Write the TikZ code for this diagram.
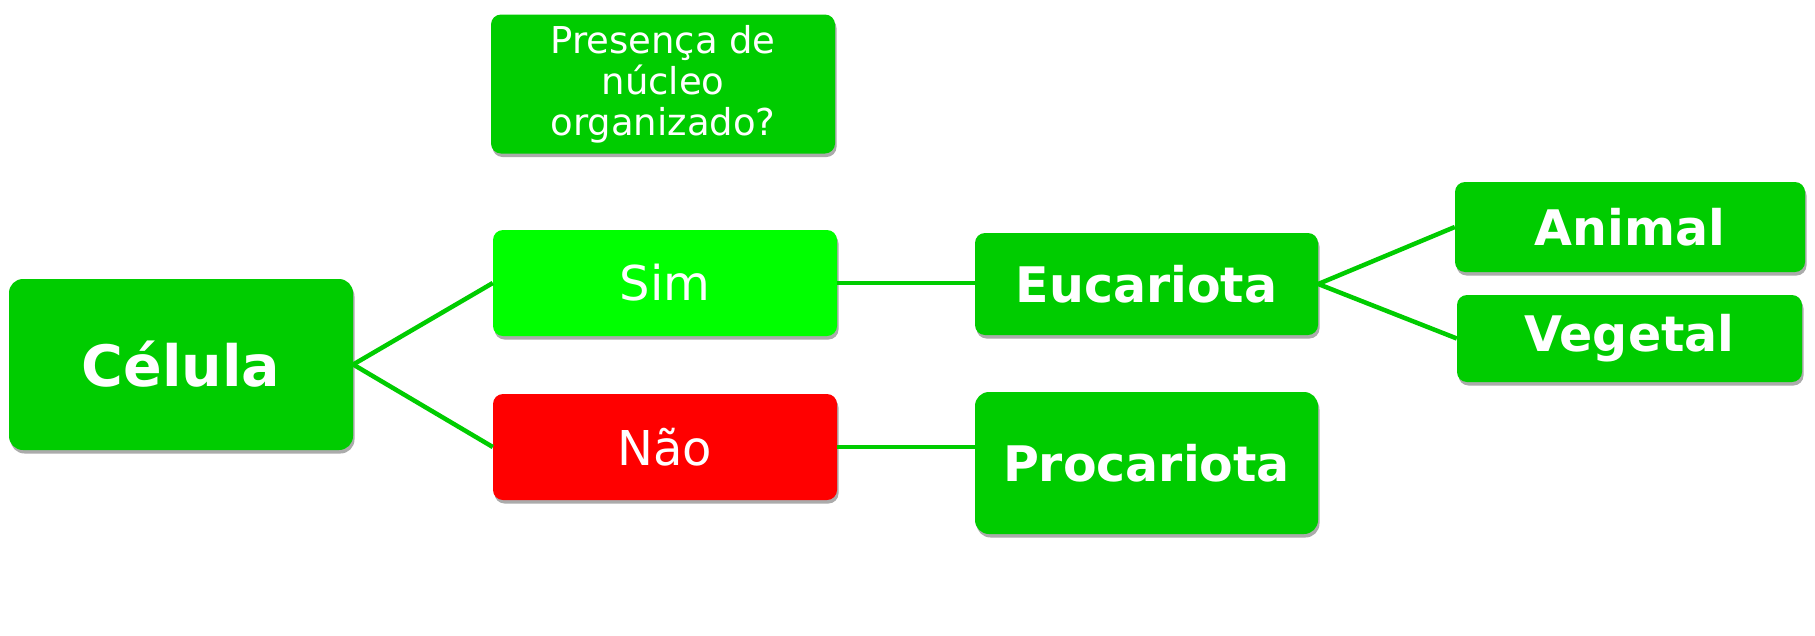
\documentclass[tikz,border=0pt]{standalone}
\usepackage{fontspec}
\setmainfont{DejaVu Sans}
\usepackage{tikz}
\usetikzlibrary{positioning,shadows,calc}

\definecolor{verde}{HTML}{00CC00}
\definecolor{verdeclaro}{HTML}{00FF00}
\definecolor{vermelho}{HTML}{FF0000}

\begin{document}
\begin{tikzpicture}[x=1pt, y=-1pt,
  caixa/.style={rectangle, rounded corners=10pt, fill=verde, text=white, inner sep=0pt,
    drop shadow={opacity=0.55, fill=black!60, shadow xshift=1.5pt, shadow yshift=-3.5pt}},
  grande/.style={font=\bfseries\fontsize{49}{52}\selectfont},
  resposta/.style={font=\fontsize{48}{52}\selectfont},
  liga/.style={draw=verde, line width=4.5pt}]
\useasboundingbox (0,0) rectangle (1815,635);
%raiz
\node[caixa, rounded corners=14pt, minimum width=344pt, minimum height=171pt,
  font=\bfseries\fontsize{57}{60}\selectfont] (celula) at (181,364.5) {Célula};
%pergunta
\node[caixa, minimum width=344pt, minimum height=139pt, align=center,
  font=\fontsize{37}{41}\selectfont] (pergunta) at (663,84) {Presença de\\núcleo\\organizado?};
%respostas
\node[caixa, resposta, fill=verdeclaro, minimum width=344pt, minimum height=106pt] (sim) at (665,283) {Sim};
\node[caixa, resposta, fill=vermelho, minimum width=344pt, minimum height=106pt] (nao) at (665,447) {Não};
%tipos de celula
\node[caixa, grande, minimum width=343pt, minimum height=102pt] (euca) at (1146.5,284) {Eucariota};
\node[caixa, grande, rounded corners=14pt, minimum width=343pt, minimum height=142pt] (proca) at (1146.5,463) {Procariota};
%reinos
\node[caixa, grande, minimum width=350pt, minimum height=90pt] (animal) at (1630,227) {Animal};
\node[caixa, grande, minimum width=345pt, minimum height=87pt] (vegetal) at (1629.5,338.5) {Vegetal};

\draw[liga] (celula.east) -- (sim.west);
\draw[liga] (celula.east) -- (nao.west);
\draw[liga] (sim.east) -- (sim.east -| euca.west);
\draw[liga] (nao.east) -- (nao.east -| proca.west);
\draw[liga] (euca.east) -- (animal.west);
\draw[liga] (euca.east) -- (vegetal.west);
\end{tikzpicture}
\end{document}
